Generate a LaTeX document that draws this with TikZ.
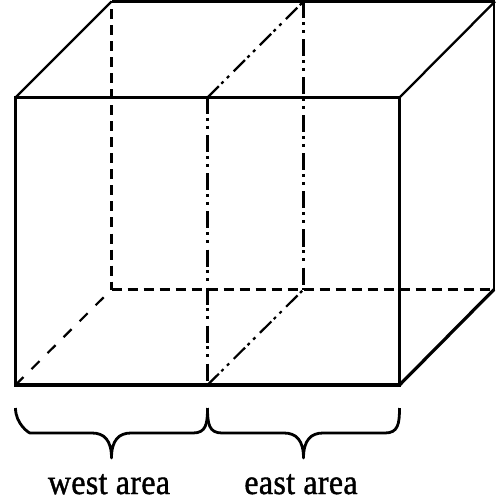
\documentclass[tikz,border=0pt]{standalone}
\usepackage{fontspec}
\setmainfont[FakeBold=1.2,LetterSpace=1]{Liberation Serif}
\tikzset{
  thickline/.style={line width=3.2pt,line cap=butt},
  thinline/.style={line width=2.3pt,line cap=butt},
  hiddenv/.style={line width=3.2pt,dash pattern=on 10pt off 6pt},
  hiddend/.style={line width=2.2pt,dash pattern=on 11.3pt off 11.3pt},
  dividerv/.style={line width=3.2pt,dash pattern=on 17pt off 3.5pt on 3pt off 5pt on 3pt off 6.5pt},
  dividerd/.style={line width=2.2pt,dash pattern=on 16pt off 3.5pt on 3pt off 5pt on 3pt off 6.5pt},
  bracecurve/.style={line width=2.8pt,line cap=butt,line join=round},
  arealabel/.style={font=\fontsize{32}{32}\selectfont,anchor=base,inner sep=0pt}
}
\newcommand{\tallertext}[1]{\scalebox{1}[1.1]{#1}}
\begin{document}
\begin{tikzpicture}[x=1pt,y=-1pt]
\useasboundingbox (0,0) rectangle (495,502);
% front corners
\coordinate (FTL) at (15.5,97.5);
\coordinate (FTM) at (207.5,97.5);
\coordinate (FTR) at (399.5,97.5);
\coordinate (FBL) at (15.5,385);
\coordinate (FBM) at (207.5,385);
\coordinate (FBR) at (399.5,385);
% back corners
\coordinate (BTL) at (111.5,1.5);
\coordinate (BTM) at (303.5,1.5);
\coordinate (BTR) at (495,1.5);
\coordinate (BBL) at (111.5,289.5);
\coordinate (BBM) at (303.5,289.5);
\coordinate (BBR) at (494,289.5);
% brace anchors
\coordinate (BA) at (15.5,408);
\coordinate (BB) at (207.5,408);
\coordinate (BC) at (399.5,408);
\coordinate (TA) at (111.5,458);
\coordinate (TB) at (303.5,458);
% hidden edges
\draw[hiddenv,dash phase=8pt] (BTL) -- (BBL);
\draw[hiddenv] (BBL) -- (BBR);
\draw[hiddend] (FBL) -- (BBL);
% divider
\draw[dividerv] (FTM) -- (FBM);
\draw[dividerv] (BTM) -- (BBM);
\draw[dividerd] (FTM) -- (BTM);
\draw[dividerd] (FBM) -- (BBM);
% solid edges
\draw[thickline] (FTL) rectangle (FBR);
\draw[thickline] (BTL) -- (BTR);
\draw[line width=1.5pt] (BTR) ++(-1,0) -- (BBR);
\draw[thinline] (FTL) -- (BTL);
\draw[thinline] (FTR) -- (BTR);
\draw[thickline] (FBR) -- (BBR);
% braces
\draw[bracecurve] (BA) .. controls ++(0,16) and ++(-1,0) .. (30,433) -- (92,433)
  .. controls (104,433) and (111.5,440) .. (TA)
  .. controls (111.5,440) and (119,433) .. (131,433) -- (193,433)
  .. controls (206,433) and (207.5,424) .. (BB);
\draw[bracecurve] (BB) .. controls (207.5,424) and (209,433) .. (222,433) -- (284,433)
  .. controls (296,433) and (303.5,440) .. (TB)
  .. controls (303.5,440) and (311,433) .. (323,433) -- (385,433)
  .. controls (398,433) and (399.5,424) .. (BC);
% labels
\node[arealabel] (west) at (109,494) {\tallertext{west area}};
\node[arealabel] (east) at (301,494) {\tallertext{east area}};
\end{tikzpicture}
\end{document}
